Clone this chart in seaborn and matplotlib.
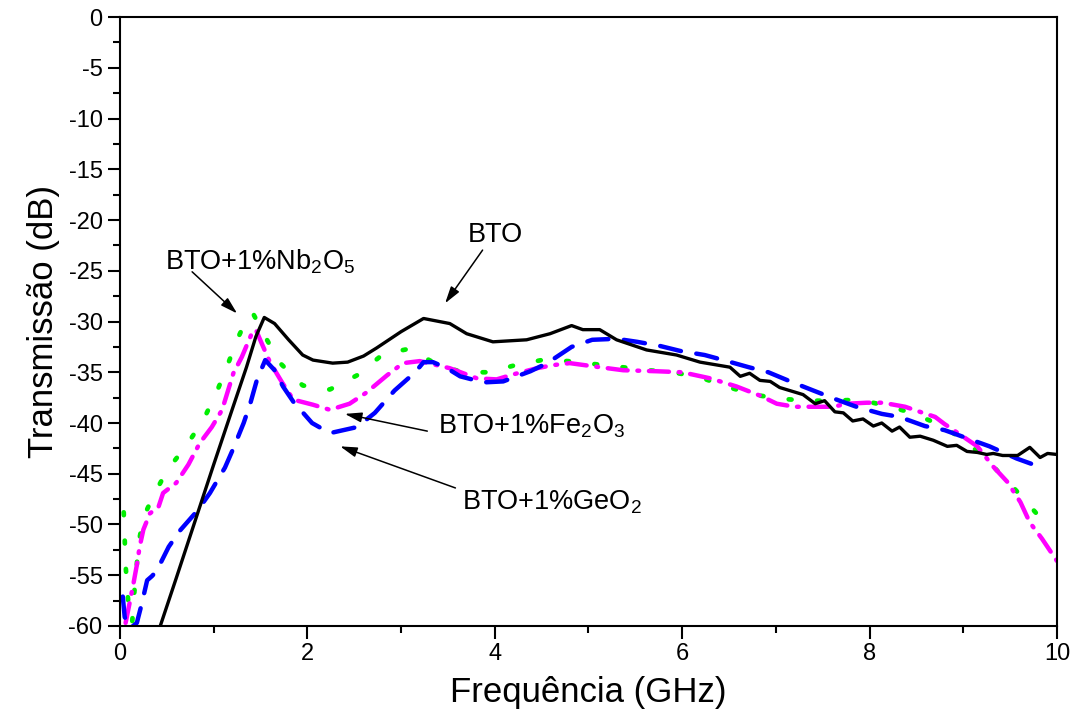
import matplotlib
matplotlib.use('Agg')
import matplotlib.pyplot as plt
import numpy as np
import pandas as pd
import seaborn as sns

# BTO (black solid)
bto_x = [0.43, 0.6, 0.8, 1.0, 1.2, 1.35, 1.45, 1.54, 1.65, 1.8, 1.95, 2.06, 2.27, 2.43, 2.6, 2.74, 3.0, 3.24,
         3.52, 3.70, 3.98, 4.34, 4.59, 4.82, 4.94, 5.12, 5.30, 5.62, 5.94, 6.19, 6.51, 6.62, 6.72, 6.83, 6.94,
         7.04, 7.29, 7.42, 7.52, 7.63, 7.72, 7.82, 7.93, 8.04, 8.13, 8.24, 8.32, 8.43, 8.54, 8.68, 8.83, 8.93,
         9.04, 9.15, 9.25, 9.32, 9.42, 9.58, 9.71, 9.82, 9.90, 10.0]
bto_y = [-60, -55.3, -49.7, -44.1, -38.6, -34.5, -31.5, -29.6, -30.2, -31.8, -33.3, -33.8, -34.1, -34.0, -33.4,
         -32.6, -31.0, -29.7, -30.2, -31.2, -32.0, -31.8, -31.2, -30.4, -30.8, -30.8, -31.8, -32.8, -33.3, -34.0,
         -34.5, -35.4, -35.1, -35.8, -35.9, -36.5, -37.2, -38.1, -37.8, -38.9, -39.0, -39.8, -39.6, -40.3, -40.0,
         -40.8, -40.4, -41.4, -41.3, -41.7, -42.3, -42.2, -42.8, -42.9, -43.1, -43.0, -43.2, -43.2, -42.4, -43.4,
         -43.0, -43.1]

# BTO+1%Nb2O5 (green dotted)
nb_x = [0.04, 0.05, 0.06, 0.08, 0.1, 0.13, 0.15, 0.2, 0.25, 0.35, 0.5, 0.71, 0.89, 1.03, 1.14, 1.25, 1.37, 1.42,
        1.55, 1.71, 1.95, 2.24, 2.53, 2.81, 3.08, 3.36, 3.65, 3.93, 4.22, 4.5, 4.78, 5.07, 5.36, 5.64, 5.9, 6.19,
        6.47, 6.76, 7.04, 7.32, 7.61, 7.89, 8.18, 8.45, 8.73, 9.02, 9.28, 9.53, 9.78, 9.93]
nb_y = [-48.8, -51.3, -54, -56.6, -59.1, -59.7, -57, -51.8, -49.3, -47.3, -44.7, -42.2, -39.7, -37.0, -34.5, -31.8,
        -29.4, -29.2, -31.5, -34.1, -36.3, -36.7, -35.3, -33.2, -32.7, -34.1, -35.0, -35.0, -34.3, -33.8, -33.9,
        -34.2, -34.5, -34.8, -35.0, -35.5, -36.4, -37.2, -37.6, -37.8, -37.8, -37.7, -38.3, -39.0, -40.1, -41.7,
        -43.9, -46.3, -48.9, -49.5]

# BTO+1%Fe2O3 (magenta dash-dot)
fe_x = [0.06, 0.11, 0.14, 0.18, 0.21, 0.25, 0.32, 0.41, 0.46, 0.6, 0.73, 0.85, 0.98, 1.09, 1.21, 1.30, 1.41, 1.45,
        1.51, 1.6, 1.73, 1.85, 2.06, 2.24, 2.45, 2.63, 2.85, 3.02, 3.2, 3.52, 3.81, 4.02, 4.2, 4.45, 4.62, 4.8,
        5.12, 5.37, 5.73, 6.0, 6.3, 6.58, 6.83, 7.01, 7.2, 7.4, 7.61, 7.76, 7.97, 8.14, 8.38, 8.57, 8.7, 8.8,
        8.96, 9.15, 9.32, 9.47, 9.61, 9.71, 9.84, 10.0]
fe_y = [-59.7, -57.4, -56, -54, -52.2, -50.5, -48.9, -48.3, -46.9, -45.9, -44.1, -42.0, -40.4, -38.7, -35.1, -33.5,
        -31.1, -30.8, -32.1, -34, -36, -37.7, -38.2, -38.7, -38.1, -37.0, -35.3, -34.1, -33.9, -34.6, -35.6, -35.7,
        -35.2, -34.6, -34.3, -34.1, -34.5, -34.8, -34.9, -35.0, -35.6, -36.4, -37.3, -38.1, -38.4, -38.4, -38.4,
        -38.1, -38.0, -38.0, -38.4, -39.0, -39.4, -40.1, -41.1, -42.3, -44.3, -45.8, -47.8, -49.8, -51.4, -53.6]

# BTO+1%GeO2 (blue dashed)
ge_x = [0.03, 0.05, 0.1, 0.18, 0.23, 0.29, 0.34, 0.39, 0.52, 0.64, 0.83, 0.96, 1.12, 1.21, 1.32, 1.39, 1.46, 1.55,
        1.65, 1.74, 1.85, 2.05, 2.24, 2.53, 2.72, 2.93, 3.15, 3.24, 3.34, 3.49, 3.63, 3.88, 4.09, 4.38, 4.56, 4.82,
        5.04, 5.3, 5.52, 5.76, 5.98, 6.24, 6.44, 6.71, 6.92, 7.18, 7.4, 7.65, 7.86, 8.13, 8.32, 8.59, 8.8, 9.07,
        9.28, 9.57, 9.75]
ge_y = [-57.1, -59.1, -60.3, -59.7, -57.9, -55.5, -55.1, -54.6, -52.2, -50.6, -48.6, -46.9, -44.4, -42.5, -40, -38.1,
        -35.8, -33.8, -34.8, -36.4, -37.9, -40, -41, -40.4, -39, -36.8, -35, -34, -34.0, -34.6, -35.4, -36.0, -35.9,
        -34.9, -34.1, -32.5, -31.8, -31.7, -32.0, -32.4, -32.9, -33.3, -33.8, -34.5, -35.0, -36.0, -36.8, -37.7,
        -38.4, -39.1, -39.4, -40.3, -40.7, -41.6, -42.3, -43.5, -44.1]

sns.set_style('ticks')
plt.rcParams['font.family'] = ['Liberation Sans', 'DejaVu Sans']
plt.rcParams['mathtext.fontset'] = 'custom'
plt.rcParams['mathtext.rm'] = 'Liberation Sans'
plt.rcParams['mathtext.default'] = 'regular'
plt.rcParams['axes.unicode_minus'] = False
for k in ['text.color', 'axes.labelcolor', 'xtick.color', 'ytick.color', 'axes.edgecolor']:
    plt.rcParams[k] = 'black'

fig = plt.figure(figsize=(10.77, 7.24), dpi=100)
ax = fig.add_axes([0.1114, 0.1354, 0.87, 0.841])

sns.lineplot(x=nb_x, y=nb_y, ax=ax, color='#00ee00', lw=3.4, sort=False, estimator=None,
             linestyle=(0, (0.6, 5.4)), dash_capstyle='round')
sns.lineplot(x=fe_x, y=fe_y, ax=ax, color='#ff00ff', lw=3.2, sort=False, estimator=None,
             linestyle=(0, (4.5, 2.2, 0.4, 2.2)), dash_capstyle='round')
sns.lineplot(x=ge_x, y=ge_y, ax=ax, color='#0000ff', lw=3.2, sort=False, estimator=None,
             linestyle=(0, (4.8, 3.5)), dash_capstyle='round')
sns.lineplot(x=bto_x, y=bto_y, ax=ax, color='black', lw=2.4, sort=False, estimator=None)

ax.set_xlim(0, 10)
ax.set_ylim(-60, 0)
ax.set_xticks(np.arange(0, 11, 2))
ax.set_xticks(np.arange(0, 11, 1), minor=True)
ax.set_yticks(np.arange(-60, 1, 5))
ax.set_yticks(np.arange(-60, 0.1, 2.5), minor=True)
ax.tick_params(which='major', length=9, width=1.5, labelsize=17, direction='out')
ax.tick_params(which='minor', length=5, width=1.5, direction='out')
for s in ax.spines.values():
    s.set_linewidth(1.5)
    s.set_visible(True)

ax.set_xlabel('Frequência (GHz)', fontsize=25, labelpad=8)
ax.set_ylabel('Transmissão (dB)', fontsize=25, labelpad=6)

txt = 19.5
ax.text(3.71, -22.2, 'BTO', fontsize=txt, ha='left', va='baseline')
ax.text(0.48, -24.9, 'BTO+1%Nb$_{2}$O$_{5}$', fontsize=txt, ha='left', va='baseline')
ax.text(3.39, -41.0, 'BTO+1%Fe$_{2}$O$_{3}$', fontsize=txt, ha='left', va='baseline')
ax.text(3.65, -48.5, 'BTO+1%GeO$_{2}$', fontsize=txt, ha='left', va='baseline')

arrow = dict(arrowstyle='-|>,head_length=0.85,head_width=0.25', color='black', lw=1.1,
             mutation_scale=12, shrinkA=0, shrinkB=0)
ax.annotate('', xy=(3.47, -28.2), xytext=(3.87, -22.96), arrowprops=arrow)
ax.annotate('', xy=(1.25, -29.2), xytext=(0.77, -25.1), arrowprops=arrow)
ax.annotate('', xy=(2.40, -39.1), xytext=(3.28, -40.8), arrowprops=arrow)
ax.annotate('', xy=(2.35, -42.3), xytext=(3.58, -46.4), arrowprops=arrow)

fig.savefig('out.png', dpi=100)
